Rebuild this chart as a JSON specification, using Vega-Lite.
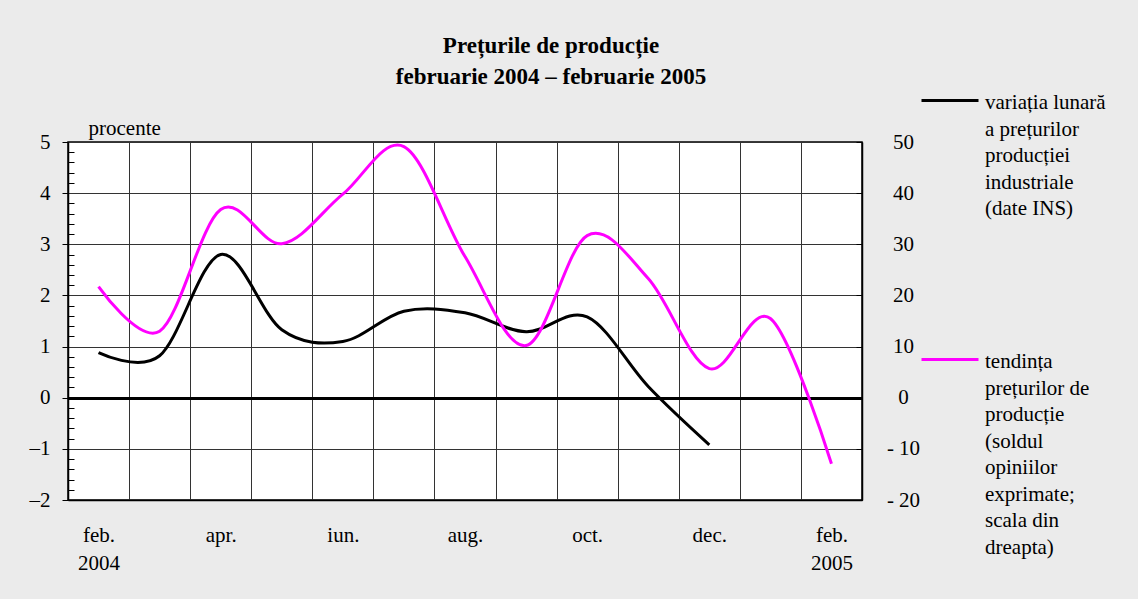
{
  "$schema": "https://vega.github.io/schema/vega-lite/v6.json",
  "width": 794,
  "height": 358,
  "autosize": {"type": "none"},
  "padding": {"left": 68, "top": 142, "right": 276, "bottom": 99},
  "background": "#ebebeb",
  "title": {
    "text": ["Prețurile de producție", "februarie 2004 – februarie 2005"],
    "font": "Liberation Serif",
    "fontSize": 23,
    "fontWeight": "bold",
    "lineHeight": 31,
    "color": "black",
    "anchor": "middle",
    "frame": "group",
    "dx": 86,
    "dy": 47,
    "offset": 20
  },
  "data": {
    "values": [
      {"m": "feb.|2004", "v": 0.88, "s": 21.7},
      {"m": "mar.", "v": 0.82, "s": 13.0},
      {"m": "apr.", "v": 2.80, "s": 36.8},
      {"m": "mai", "v": 1.33, "s": 30.1},
      {"m": "iun.", "v": 1.10, "s": 39.8},
      {"m": "iul.", "v": 1.69, "s": 49.1},
      {"m": "aug.", "v": 1.66, "s": 27.6},
      {"m": "sep.", "v": 1.29, "s": 10.2},
      {"m": "oct.", "v": 1.58, "s": 31.7},
      {"m": "nov.", "v": 0.22, "s": 23.3},
      {"m": "dec.", "v": -0.92, "s": 5.7},
      {"m": "ian.", "v": null, "s": 15.5},
      {"m": "feb.|2005", "v": null, "s": -12.9}
    ]
  },
  "encoding": {
    "x": {
      "field": "m",
      "type": "ordinal",
      "sort": null,
      "bandPosition": 0.5,
      "scale": {"type": "band", "paddingInner": 0, "paddingOuter": 0},
      "axis": {
        "title": null,
        "labelAngle": 0,
        "tickBand": "extent",
        "ticks": false,
        "grid": true,
        "gridColor": "#333333",
        "gridWidth": 1,
        "domainColor": "black",
        "domainWidth": 1.5,
        "labelExpr": "!isString(datum.value) || indexof(['mar.','mai','iul.','sep.','nov.','ian.'], datum.value) >= 0 ? '' : split(datum.value, '|')",
        "labelFont": "Liberation Serif",
        "labelFontSize": 21,
        "labelColor": "black",
        "labelLineHeight": 28,
        "labelBaseline": "top",
        "labelPadding": 24
      }
    }
  },
  "layer": [
    {
      "mark": {"type": "line", "interpolate": "cardinal", "strokeWidth": 3},
      "encoding": {
        "y": {
          "field": "v",
          "type": "quantitative",
          "scale": {"domain": [-2, 5], "nice": false, "zero": false},
          "axis": {
            "orient": "left",
            "title": "procente",
            "titleAngle": 0,
            "titleX": 20,
            "titleY": -8,
            "titleAlign": "left",
            "titleBaseline": "alphabetic",
            "titleFont": "Liberation Serif",
            "titleFontSize": 21,
            "titleFontWeight": "normal",
            "titleColor": "black",
            "values": [-2, -1.8, -1.6, -1.4, -1.2, -1, -0.8, -0.6, -0.4, -0.2, 0, 0.2, 0.4, 0.6, 0.8, 1, 1.2, 1.4, 1.6, 1.8, 2, 2.2, 2.4, 2.6, 2.8, 3, 3.2, 3.4, 3.6, 3.8, 4, 4.2, 4.4, 4.6, 4.8, 5],
            "grid": true,
            "gridColor": {"condition": {"test": "abs(datum.value) < 0.01", "value": "black"}, "value": "#333333"},
            "gridWidth": {"condition": {"test": "abs(datum.value) < 0.01", "value": 3}, "value": 1},
            "gridOpacity": {"condition": {"test": "abs(datum.value - round(datum.value)) < 0.01", "value": 1}, "value": 0},
            "tickSize": {"condition": {"test": "abs(datum.value - round(datum.value)) < 0.01", "value": 6}, "value": -6},
            "tickColor": "black",
            "domainColor": "black",
            "domainWidth": 1.5,
            "labelExpr": "abs(datum.value - round(datum.value)) < 0.01 ? (datum.value < -0.01 ? '–' + abs(round(datum.value)) : '' + round(datum.value)) : ''",
            "labelFont": "Liberation Serif",
            "labelFontSize": 21,
            "labelColor": "black",
            "labelPadding": 12
          }
        },
        "color": {
          "datum": "A",
          "scale": {"domain": ["A"], "range": ["black"]},
          "legend": {
            "orient": "none",
            "legendX": 852,
            "legendY": -80,
            "title": null,
            "padding": 0,
            "symbolType": "M-1,0.3H1",
            "symbolSize": 3249,
            "symbolStrokeWidth": 3,
            "labelExpr": "['variația lunară', 'a prețurilor', 'producției', 'industriale', '(date INS)']",
            "labelFont": "Liberation Serif",
            "labelFontSize": 21,
            "labelColor": "black",
            "labelBaseline": "top",
            "labelOffset": 5,
            "labelLimit": 0
          }
        }
      }
    },
    {
      "mark": {"type": "line", "interpolate": "cardinal", "strokeWidth": 3},
      "encoding": {
        "y": {
          "field": "s",
          "type": "quantitative",
          "scale": {"domain": [-20, 50], "nice": false, "zero": false},
          "axis": {
            "orient": "right",
            "title": null,
            "values": [-20, -10, 0, 10, 20, 30, 40, 50],
            "grid": false,
            "tickSize": -6,
            "tickColor": "black",
            "domainColor": "black",
            "domainWidth": 1.5,
            "labelAlign": "center",
            "labelPadding": 47,
            "labelExpr": "datum.value < 0 ? '-  ' + abs(datum.value) : '' + datum.value",
            "labelFont": "Liberation Serif",
            "labelFontSize": 21,
            "labelColor": "black"
          }
        },
        "color": {
          "datum": "B",
          "scale": {"domain": ["B"], "range": ["#ff00ff"]},
          "legend": {
            "orient": "none",
            "legendX": 852,
            "legendY": 179,
            "title": null,
            "padding": 0,
            "symbolType": "M-1,0.3H1",
            "symbolSize": 3249,
            "symbolStrokeWidth": 3,
            "labelExpr": "['tendința', 'prețurilor de', 'producție', '(soldul', 'opiniilor', 'exprimate;', 'scala din', 'dreapta)']",
            "labelFont": "Liberation Serif",
            "labelFontSize": 21,
            "labelColor": "black",
            "labelBaseline": "top",
            "labelOffset": 5,
            "labelLimit": 0
          }
        }
      }
    }
  ],
  "resolve": {"scale": {"y": "independent", "color": "independent"}},
  "config": {
    "font": "Liberation Serif",
    "view": {"fill": "white", "stroke": "black", "strokeWidth": 1.5},
    "style": {"guide-label": {"lineHeight": 26.5}}
  }
}
